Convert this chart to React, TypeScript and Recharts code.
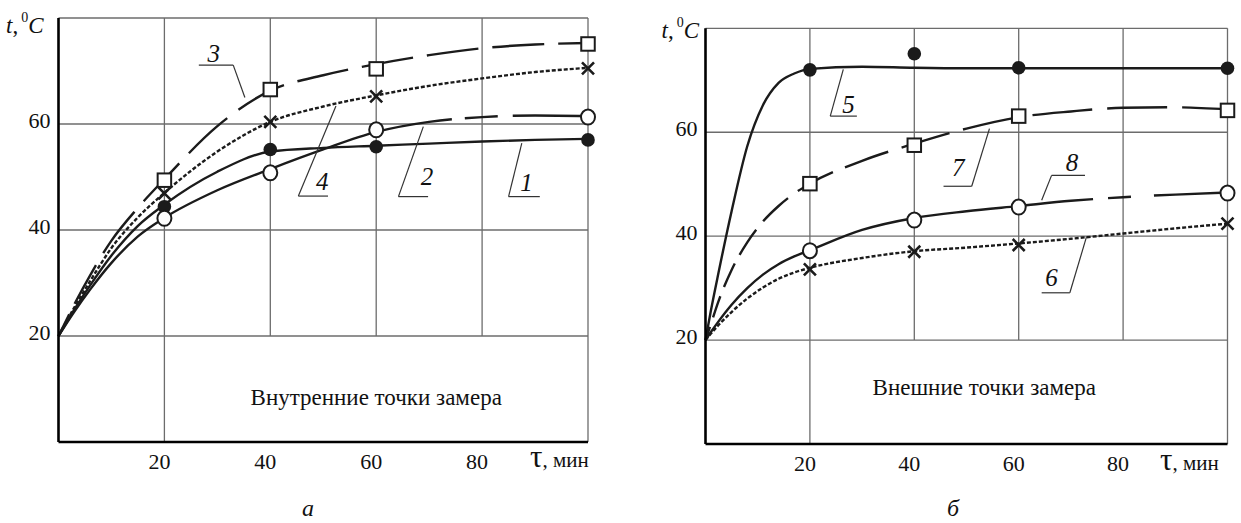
import React from "react";
import { ComposedChart, Line, Scatter, XAxis, YAxis, ReferenceLine, ReferenceDot } from "recharts";

const SERIF = '"Liberation Serif", "Times New Roman", serif';
const INK = "#1b1b1b";
const GRID = "#6c6c6c";

// общие оси
const xTicks = [20, 40, 60, 80];
const yTicks = [20, 40, 60];
const markTimes = [20, 40, 60, 100];

// а) внутренние точки замера
const timeA = [0, 3, 6, 10, 15, 20, 30, 40, 50, 60, 70, 80, 90, 100];
const curve1 = [20, 25, 29.6, 35.2, 40.8, 44.8, 51, 54.8, 55.5, 55.9, 56.3, 56.7, 57, 57.2];
const curve2 = [20, 24.6, 28.8, 33.8, 38.8, 42.3, 47.5, 51.5, 55.2, 58.5, 60.4, 61.3, 61.6, 61.5];
const curve3 = [20, 26, 31.5, 38, 44.2, 49.6, 59.6, 66.3, 69.2, 71.3, 73, 74.3, 75, 75.3];
const curve4 = [20, 25.4, 30.4, 36.6, 42.4, 47, 54.8, 60.4, 63.3, 65.4, 67.2, 68.6, 69.8, 70.6];
const mark1 = [44.4, 55.2, 55.7, 57.0];
const mark2 = [42.2, 50.8, 58.9, 61.3];
const mark3 = [49.4, 66.5, 70.4, 75.1];
const mark4 = [46.9, 60.4, 65.2, 70.5];

// б) внешние точки замера
const timeB = [0, 1, 2.5, 5, 8, 11, 14, 17, 20, 30, 40, 50, 60, 70, 80, 90, 100];
const curve5 = [20, 25.5, 33, 44.8, 57.3, 65.2, 69.5, 71.3, 72.2, 72.6, 72.4, 72.3, 72.3, 72.3, 72.3, 72.3, 72.3];
const curve6 = [20, 21.2, 22.9, 25.4, 28, 30.1, 31.8, 33, 33.9, 35.8, 37.1, 37.8, 38.6, 39.5, 40.5, 41.5, 42.4];
const curve7 = [20, 23, 27.5, 33.5, 38.8, 42.8, 45.8, 48.2, 50.1, 54.5, 57.8, 60.7, 62.9, 64, 64.7, 64.8, 64.4];
const curve8 = [20, 21.5, 23.6, 26.8, 30, 32.6, 34.6, 36.1, 37.3, 41.2, 43.5, 44.8, 45.8, 46.8, 47.5, 48, 48.4];
const mark5 = [72.0, 75.1, 72.4, 72.3];
const mark6 = [33.6, 37.0, 38.3, 42.4];
const mark7 = [50.1, 57.5, 63.1, 64.2];
const mark8 = [37.2, 43.1, 45.6, 48.3];

const pts = (ts: number[], vs: number[]) => ts.map((t, i) => ({ t, v: vs[i] }));

function Square(p: any) {
  const s = 13.5;
  return <rect x={p.cx - s / 2} y={p.cy - s / 2} width={s} height={s} fill="#fff" stroke={INK} strokeWidth={2} />;
}
function Ring(p: any) {
  return <ellipse cx={p.cx} cy={p.cy} rx={7} ry={7.5} fill="#fff" stroke={INK} strokeWidth={2} />;
}
function Blob(p: any) {
  return <circle cx={p.cx} cy={p.cy} r={6.8} fill={INK} />;
}
function Cross(p: any) {
  const d = 6;
  const { cx, cy } = p;
  return (
    <path
      d={`M${cx - d},${cy - d}L${cx + d},${cy + d}M${cx + d},${cy - d}L${cx - d},${cy + d}`}
      stroke={INK}
      strokeWidth={2.6}
      fill="none"
    />
  );
}

function XTick(p: any) {
  return (
    <text x={p.x - 5} y={p.y + 19} textAnchor="middle" fontSize={22} fontFamily={SERIF} fill="#111">
      {p.payload.value}
    </text>
  );
}
function YTick(p: any) {
  return (
    <text x={p.x} y={p.y + 4} textAnchor="end" fontSize={22} fontFamily={SERIF} fill="#111">
      {p.payload.value}
    </text>
  );
}

const tauLabel = (dx: number, dy: number) => (props: any) => {
  const vb = props.viewBox;
  return (
    <text x={vb.x + vb.width - dx} y={vb.y + dy} fontFamily={SERIF} fill="#111">
      <tspan fontSize={31}>τ</tspan>
      <tspan fontSize={21}>, мин</tspan>
    </text>
  );
};

const tempLabel = (dx: number, dy: number) => (props: any) => {
  const vb = props.viewBox;
  return (
    <text x={vb.x + dx} y={vb.y + dy} fontFamily={SERIF} fill="#111" fontSize={23}>
      <tspan fontStyle="italic">t</tspan>
      <tspan>,</tspan>
      <tspan dx={3} dy={-11} fontSize={14}>0</tspan>
      <tspan dx={0} dy={11} fontStyle="italic">C</tspan>
    </text>
  );
};

type Curve = { data: { t: number; v: number }[]; dash?: string };
type Marks = { data: { t: number; v: number }[]; shape: (p: any) => React.ReactElement };
type Tag = { x: number; y: number; text: string; path: number[][] };

function Panel(props: {
  width: number;
  margin: { top: number; right: number; bottom: number; left: number };
  curves: Curve[];
  marks: Marks[];
  tags: Tag[];
  note: { x: number; y: number; text: string };
  tau: [number, number];
  temp: [number, number];
}) {
  const { width, margin, curves, marks, tags, note, tau, temp } = props;
  const gridLine = (a: { x: number; y: number }, b: { x: number; y: number }, k: string) => (
    <ReferenceLine key={k} segment={[a, b]} stroke={GRID} strokeWidth={1.3} />
  );
  return (
    <ComposedChart width={width} height={523} margin={margin}>
      {yTicks.map((y) => gridLine({ x: 0, y }, { x: 100, y }, "h" + y))}
      {gridLine({ x: 0, y: 80 }, { x: 100, y: 80 }, "top")}
      {gridLine({ x: 20, y: 0 }, { x: 20, y: 80 }, "v20")}
      {[40, 60, 80].map((x) => gridLine({ x, y: 20 }, { x, y: 80 }, "v" + x))}
      {gridLine({ x: 100, y: 0 }, { x: 100, y: 80 }, "right")}
      <XAxis
        type="number"
        dataKey="t"
        domain={[0, 100]}
        ticks={xTicks}
        tickLine={false}
        axisLine={{ stroke: "#000", strokeWidth: 2.6 }}
        tick={XTick}
        height={30}
        label={{ content: tauLabel(tau[0], tau[1]) }}
      />
      <YAxis
        type="number"
        dataKey="v"
        domain={[0, 80]}
        ticks={yTicks}
        tickLine={false}
        axisLine={{ stroke: "#000", strokeWidth: 2.6 }}
        tick={YTick}
        width={50}
        label={{ content: tempLabel(temp[0], temp[1]) }}
      />
      {curves.map((c, i) => (
        <Line
          key={"c" + i}
          data={c.data}
          dataKey="v"
          type="monotone"
          dot={false}
          activeDot={false}
          stroke={INK}
          strokeWidth={2.4}
          strokeDasharray={c.dash}
          isAnimationActive={false}
        />
      ))}
      {marks.map((m, i) => (
        <Scatter key={"m" + i} data={m.data} dataKey="v" shape={m.shape} isAnimationActive={false} />
      ))}
      {tags.map((g, i) => [
        <ReferenceLine
          key={"la" + i}
          segment={[{ x: g.path[0][0], y: g.path[0][1] }, { x: g.path[1][0], y: g.path[1][1] }]}
          stroke="#333"
          strokeWidth={1.2}
        />,
        <ReferenceLine
          key={"lb" + i}
          segment={[{ x: g.path[1][0], y: g.path[1][1] }, { x: g.path[2][0], y: g.path[2][1] }]}
          stroke="#333"
          strokeWidth={1.2}
        />,
        <ReferenceDot
          key={"t" + i}
          x={g.x}
          y={g.y}
          r={0}
          fill="none"
          stroke="none"
          label={{
            value: g.text,
            position: "center",
            fontSize: 25,
            fontFamily: SERIF,
            fontStyle: "italic",
            fill: "#111",
          }}
        />,
      ])}
      <ReferenceDot
        x={note.x}
        y={note.y}
        r={0}
        fill="none"
        stroke="none"
        label={{ value: note.text, position: "center", fontSize: 23, fontFamily: SERIF, fill: "#111" }}
      />
    </ComposedChart>
  );
}

export default function App() {
  const curvesA: Curve[] = [
    { data: pts(timeA, curve1) },
    { data: pts(timeA, curve2), dash: "466 13 33 15 300" },
    { data: pts(timeA, curve3), dash: "24 12 44 14 52 14 52 14 52 14 52 14 52 14 52 14 52 14 52 14 52 14" },
    { data: pts(timeA, curve4), dash: "4 2" },
  ];
  const marksA: Marks[] = [
    { data: pts(markTimes, mark1), shape: Blob },
    { data: pts(markTimes, mark2), shape: Ring },
    { data: pts(markTimes, mark3), shape: Square },
    { data: pts(markTimes, mark4), shape: Cross },
  ];
  const tagsA: Tag[] = [
    { x: 29.3, y: 73.3, text: "3", path: [[26.5, 71.1], [33.0, 71.1], [35.2, 65.0]] },
    { x: 49.8, y: 49.3, text: "4", path: [[50.9, 46.4], [45.3, 46.4], [52.4, 63.4]] },
    { x: 69.6, y: 50.2, text: "2", path: [[69.8, 46.3], [64.2, 46.3], [68.9, 59.5]] },
    { x: 88.4, y: 49.1, text: "1", path: [[90.9, 46.3], [85.0, 46.3], [87.5, 56.4]] },
  ];
  const curvesB: Curve[] = [
    { data: pts(timeB, curve5) },
    { data: pts(timeB, curve6), dash: "4 2" },
    {
      data: pts(timeB, curve7),
      dash: "14 10 22 10 26 10 30 11 34 12 40 13 46 14 50 14 56 15 60 15 60 15 60 15",
    },
    { data: pts(timeB, curve8), dash: "430 15 23 23 300" },
  ];
  const marksB: Marks[] = [
    { data: pts(markTimes, mark5), shape: Blob },
    { data: pts(markTimes, mark6), shape: Cross },
    { data: pts(markTimes, mark7), shape: Square },
    { data: pts(markTimes, mark8), shape: Ring },
  ];
  const tagsB: Tag[] = [
    { x: 27.4, y: 65.5, text: "5", path: [[29.0, 63.1], [23.9, 63.1], [26.4, 72.1]] },
    { x: 48.4, y: 53.3, text: "7", path: [[45.6, 49.6], [51.0, 49.6], [54.4, 60.7]] },
    { x: 70.2, y: 54.3, text: "8", path: [[72.7, 51.7], [66.3, 51.7], [64.4, 46.9]] },
    { x: 66.3, y: 32.2, text: "6", path: [[64.4, 29.1], [69.8, 29.1], [73.0, 39.9]] },
  ];

  const caption: React.CSSProperties = {
    position: "absolute",
    top: 496,
    width: 40,
    textAlign: "center",
    fontFamily: SERIF,
    fontStyle: "italic",
    fontSize: 24,
    lineHeight: "24px",
    color: "#111",
  };

  return (
    <div style={{ position: "absolute", left: 0, top: 0, width: 1241, height: 523, background: "#fff" }}>
      <div style={{ position: "absolute", left: 0, top: 0 }}>
        <Panel
          width={620}
          margin={{ top: 18, right: 32, bottom: 51, left: 8.5 }}
          curves={curvesA}
          marks={marksA}
          tags={tagsA}
          note={{ x: 60, y: 8.5, text: "Внутренние точки замера" }}
          tau={[58, 25]}
          temp={[-2.5, 15]}
        />
      </div>
      <div style={{ position: "absolute", left: 620, top: 0 }}>
        <Panel
          width={621}
          margin={{ top: 28.3, right: 13.5, bottom: 49, left: 35.5 }}
          curves={curvesB}
          marks={marksB}
          tags={tagsB}
          note={{ x: 53.4, y: 11, text: "Внешние точки замера" }}
          tau={[67.5, 26]}
          temp={[6, 10]}
        />
      </div>
      <div style={{ ...caption, left: 288 }}>а</div>
      <div style={{ ...caption, left: 933 }}>б</div>
    </div>
  );
}
